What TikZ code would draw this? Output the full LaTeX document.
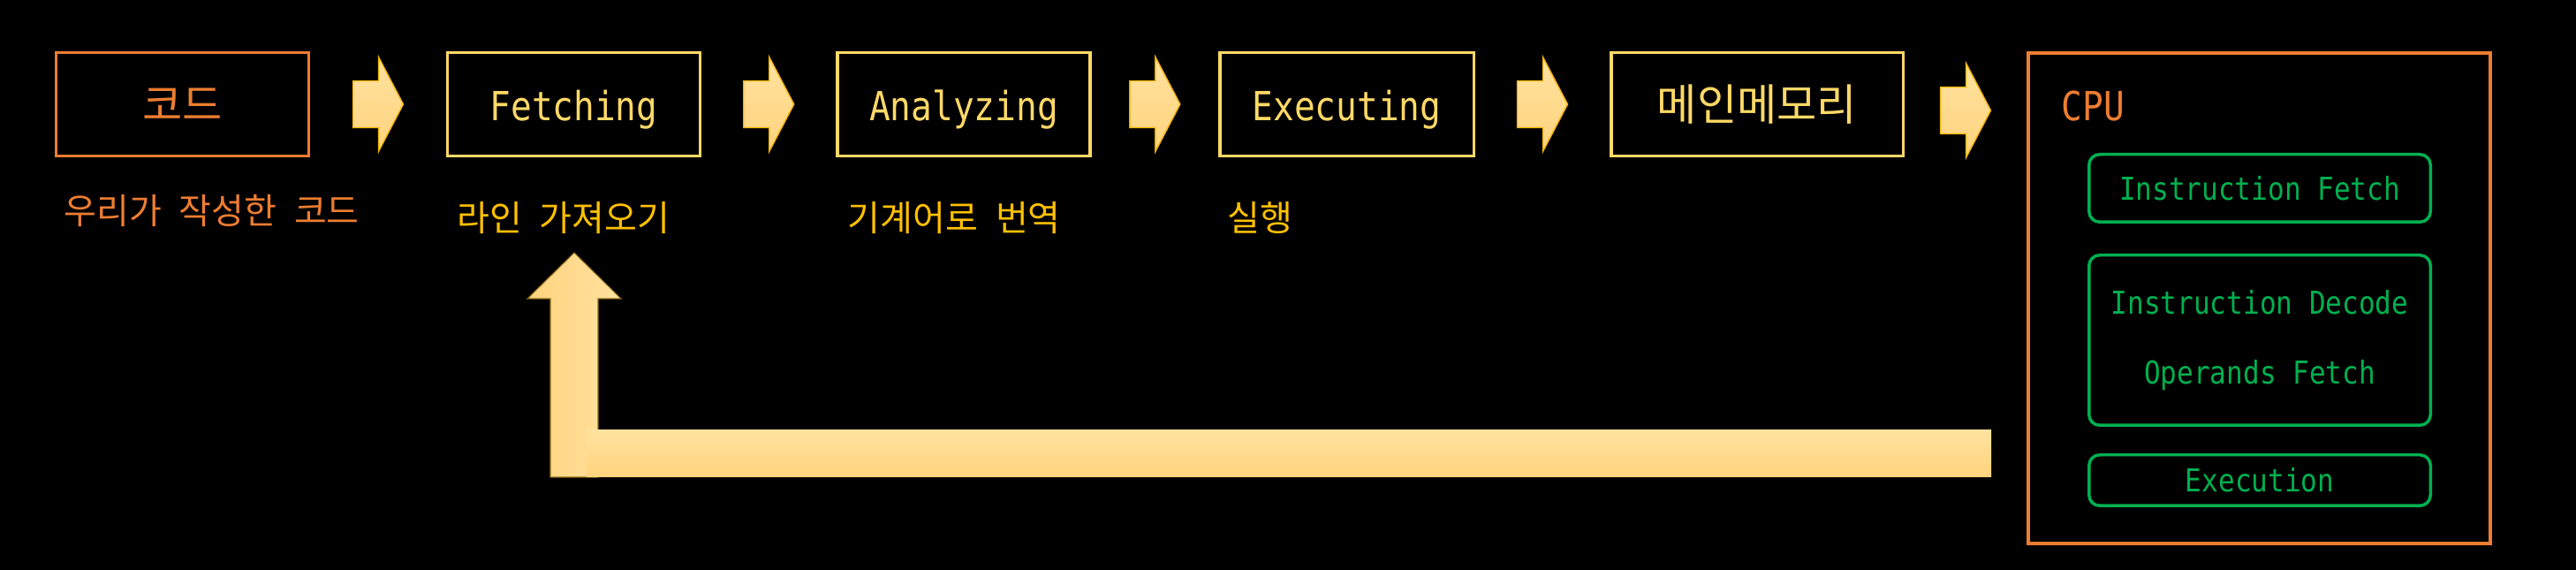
\documentclass[tikz,border=0pt]{standalone}
\usepackage{fontspec}
\setmonofont[FakeStretch=0.87]{DejaVu Sans Mono}
\newfontfamily\korfont[WordSpace=2.2]{Noto Sans CJK KR}
\usepackage{tikz}
\usetikzlibrary{positioning,calc}
\usepackage{xcolor}
\definecolor{codeorange}{HTML}{ED7D31}
\definecolor{stageyellow}{HTML}{FFD966}
\definecolor{labelgold}{HTML}{FFC000}
\definecolor{unitgreen}{HTML}{00B050}
\definecolor{arrowtop}{HTML}{FFE29F}
\definecolor{arrowbottom}{HTML}{FFD37D}
\definecolor{arrowedge}{HTML}{F2B400}
\definecolor{loopedge}{HTML}{8C6A1A}

\begin{document}
\begin{tikzpicture}[
    stagebox/.style={draw=stageyellow, line width=1pt, minimum width=2.86cm, minimum height=1.17cm, inner sep=0pt, text=stageyellow},
    latin/.style={font=\ttfamily\fontsize{12.9}{15}\selectfont, text height=0.38cm, text depth=0pt},
    hangul/.style={font=\korfont\fontsize{14}{16}\selectfont},
    notelabel/.style={anchor=west, inner sep=0pt, font=\korfont\fontsize{11.4}{13}\selectfont, text=labelgold},
    unitbox/.style={draw=unitgreen, line width=1pt, rounded corners=0.12cm, minimum width=3.865cm, inner sep=0pt, text=unitgreen, align=center, font=\ttfamily\fontsize{10.15}{22.5}\selectfont},
    arrowfill/.style={draw=arrowedge, line width=0.4pt, top color=arrowtop, bottom color=arrowbottom},
    blockarrow/.pic={
        \path[arrowfill] (-0.285,0.265) -- (0.005,0.265) -- (0.005,0.535) -- (0.285,0)
            -- (0.005,-0.535) -- (0.005,-0.265) -- (-0.285,-0.265) -- cycle;
    }
]
    % Black page
    \fill[black] (0,0) rectangle (29.16,6.45);
    \useasboundingbox (0,0) rectangle (29.16,6.45);

    % Pipeline stages
    \node[stagebox, hangul, draw=codeorange, text=codeorange] (code) at (2.065,5.27) {코드};
    \node[stagebox, latin] (fetch) at (6.495,5.27) {Fetching};
    \node[stagebox, latin] (analyze) at (10.91,5.27) {Analyzing};
    \node[stagebox, latin, minimum width=2.875cm] (execute) at (15.245,5.27) {Executing};
    \node[stagebox, hangul, minimum width=3.305cm] (memory) at (19.89,5.27) {메인메모리};

    % Notes under the stages
    \node[notelabel, text=codeorange] (codelbl) at ($(code.south west)+(0.10,-0.60)$) {우리가 작성한 코드};
    \node[notelabel] (fetchlbl) at ($(fetch.south west)+(0.12,-0.68)$) {라인 가져오기};
    \node[notelabel] (analyzelbl) at ($(analyze.south west)+(0.13,-0.68)$) {기계어로 번역};
    \node[notelabel] (executelbl) at ($(execute.south west)+(0.10,-0.68)$) {실행};

    % CPU with its units
    \node[draw=codeorange, line width=1.15pt, minimum width=5.23cm, minimum height=5.55cm, inner sep=0pt] (cpu) at (25.575,3.075) {};
    \node[anchor=base west, inner sep=0pt, text=codeorange, font=\ttfamily\fontsize{12.9}{15}\selectfont] (cpulbl) at (23.33,5.08) {CPU};
    \node[unitbox, minimum height=0.765cm] (ifetch) at (25.58,4.32) {Instruction Fetch};
    \node[unitbox, minimum height=1.925cm] (decode) at (25.58,2.60) {Instruction Decode\\Operands Fetch};
    \node[unitbox, minimum height=0.575cm] (exec) at (25.58,1.015) {Execution};

    % Block arrows between the stages
    \foreach \a/\b in {code/fetch, fetch/analyze, analyze/execute, execute/memory}
        \pic at ($(\a.east)!0.5!(\b.west)$) {blockarrow};
    \pic at ($(memory.east)!0.5!(memory.east -| cpu.west)+(0,-0.07)$) {blockarrow};

    % Loop back from the CPU to the fetch stage
    \path[draw=loopedge, line width=0.3pt, left color=arrowbottom, right color=arrowtop]
        (6.23,1.05) -- (6.23,3.07) -- (5.97,3.07) -- (6.50,3.59) -- (7.03,3.07) -- (6.77,3.07) -- (6.77,1.05) -- cycle;
    \shade[top color=arrowtop, bottom color=arrowbottom] (6.64,1.05) rectangle (22.54,1.58);

\end{tikzpicture}
\end{document}
